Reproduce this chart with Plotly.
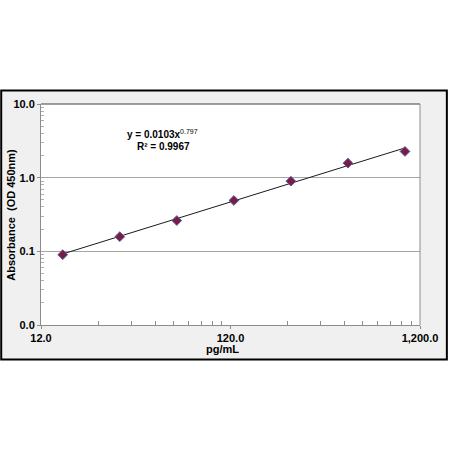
import plotly.graph_objects as go

# Data
concentration = [15.625, 31.25, 62.5, 125, 250, 500, 1000]          # pg/mL
absorbance = [0.090, 0.158, 0.262, 0.490, 0.896, 1.574, 2.27]       # OD 450nm

# Power trendline coefficients shown on the chart: y = a * x^b
fit_a = 0.0103
fit_b = 0.797
r_squared = 0.9967

x_tickvals = [12, 120, 1200]
x_ticktext = ["12.0", "120.0", "1,200.0"]
y_tickvals = [0.01, 0.1, 1, 10]
y_ticktext = ["0.0", "0.1", "1.0", "10.0"]
x_minor = [12 * k for k in range(2, 10)] + [120 * k for k in range(2, 10)]
y_minor = [0.01 * k for k in range(2, 10)] + [0.1 * k for k in range(2, 10)] + [1.0 * k for k in range(2, 10)]

trend_x = [concentration[0], concentration[-1]]
trend_y = [fit_a * v ** fit_b for v in trend_x]

FONT = "Liberation Sans, Arial, sans-serif"

fig = go.Figure()
fig.add_trace(go.Scatter(
    x=trend_x, y=trend_y, mode="lines",
    line=dict(color="#1a1a1a", width=1), showlegend=False, hoverinfo="skip"))
fig.add_trace(go.Scatter(
    x=concentration, y=absorbance, mode="markers",
    marker=dict(symbol="diamond", size=7.5, color="#7a1d45",
                line=dict(color="#5b5ba8", width=1)),
    showlegend=False))

L, R, T, B = 41, 28, 104, 125
W = 450 - L - R
H = 450 - T - B

def px_to_paper_x(px):
    return (px - L) / W

def px_to_paper_y(py):
    return (450 - B - py) / H

shapes = [
    # outer gray frame with black border
    dict(type="rect", xref="paper", yref="paper", layer="below",
         x0=px_to_paper_x(1), x1=px_to_paper_x(449),
         y0=px_to_paper_y(359.5), y1=px_to_paper_y(90.5),
         fillcolor="#f0f0f0", line=dict(color="#000000", width=2)),
    # white plot area
    dict(type="rect", xref="paper", yref="paper", layer="below",
         x0=0, x1=1, y0=0, y1=1, fillcolor="#ffffff", line=dict(width=0)),
    # top border of plot area
    dict(type="line", xref="paper", yref="paper", x0=0, x1=1, y0=1, y1=1,
         line=dict(color="#404040", width=1)),
    # right border of plot area
    dict(type="line", xref="paper", yref="paper", x0=1, x1=1, y0=0, y1=1,
         line=dict(color="#8c8c8c", width=1)),
]

fig.update_layout(
    width=450, height=450,
    margin=dict(l=L, r=R, t=T, b=B, pad=0),
    paper_bgcolor="#ffffff", plot_bgcolor="rgba(0,0,0,0)",
    font=dict(family=FONT, size=11, color="#000000"),
    shapes=shapes,
    annotations=[
        dict(xref="paper", yref="paper", x=px_to_paper_x(223), y=px_to_paper_y(348.5),
             text="<b>pg/mL</b>", showarrow=False, font=dict(size=11, family=FONT),
             xanchor="center", yanchor="middle"),
        dict(xref="paper", yref="paper", x=px_to_paper_x(10), y=px_to_paper_y(214.5),
             text="<b>Absorbance  (OD 450nm)</b>", showarrow=False, textangle=-90,
             font=dict(size=11, family=FONT), xanchor="center", yanchor="middle"),
        dict(xref="paper", yref="paper", x=px_to_paper_x(163), y=px_to_paper_y(134),
             text="<b>y = %.4fx</b><sup>%.3f</sup>" % (fit_a, fit_b), showarrow=False,
             font=dict(size=10, family=FONT), xanchor="center", yanchor="middle"),
        dict(xref="paper", yref="paper", x=px_to_paper_x(164), y=px_to_paper_y(146),
             text="<b>R² = %.4f</b>" % r_squared, showarrow=False,
             font=dict(size=10, family=FONT), xanchor="center", yanchor="middle"),
    ],
)

fig.update_xaxes(
    type="log", range=[1.0792, 3.0792],
    tickmode="array", tickvals=x_tickvals, ticktext=x_ticktext,
    tickfont=dict(family=FONT, size=11, weight="bold"),
    ticks="outside", ticklen=3, tickcolor="#8c8c8c",
    showline=True, linecolor="#8c8c8c", linewidth=1,
    showgrid=False, zeroline=False,
    minor=dict(tickmode="array", tickvals=x_minor, ticks="inside", ticklen=4,
               tickcolor="#8c8c8c", showgrid=False),
)
fig.update_yaxes(
    type="log", range=[-2, 1],
    tickmode="array", tickvals=y_tickvals, ticktext=y_ticktext,
    tickfont=dict(family=FONT, size=11, weight="bold"),
    ticks="outside", ticklen=3, tickcolor="#8c8c8c",
    showline=True, linecolor="#8c8c8c", linewidth=1,
    showgrid=True, gridcolor="#a6a6a6", gridwidth=1, zeroline=False,
    minor=dict(tickmode="array", tickvals=y_minor, ticks="inside", ticklen=3,
               tickcolor="#b0b0b0", showgrid=False),
)

fig.write_html("out.html", config={"displayModeBar": False},
               post_script="document.body.style.margin='0';document.body.style.overflow='hidden';")
